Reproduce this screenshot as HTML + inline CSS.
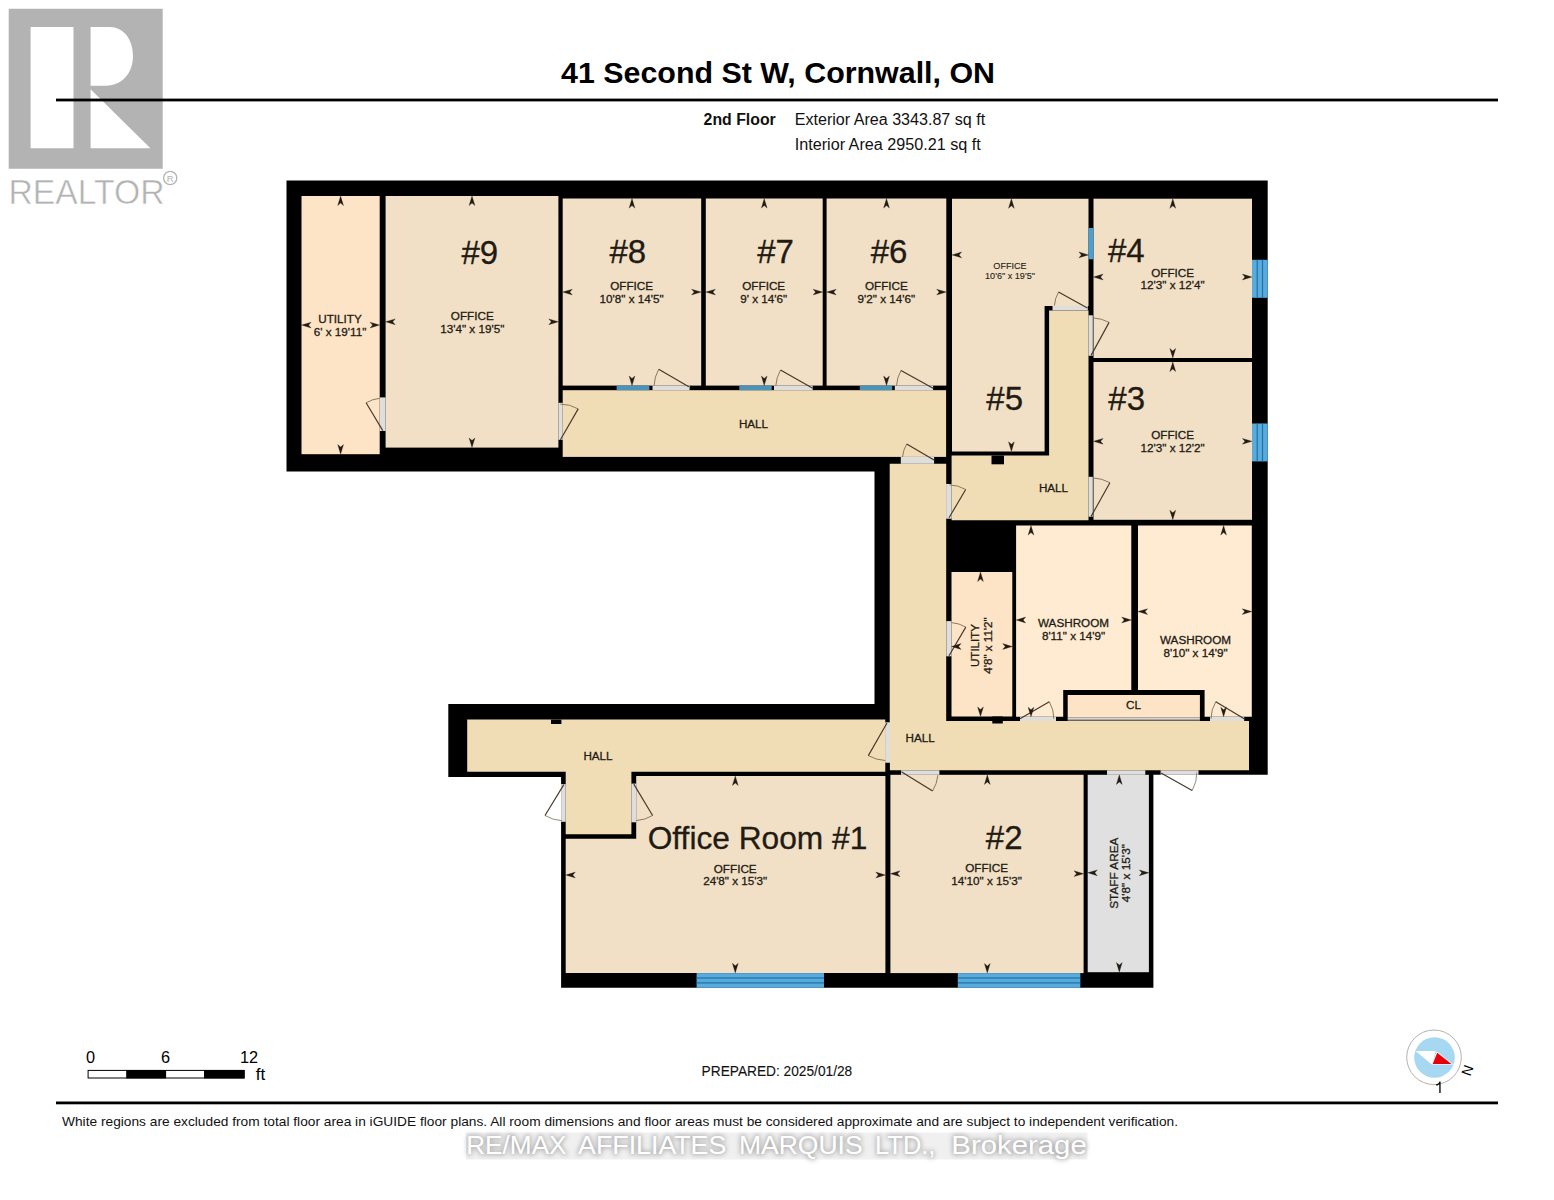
<!DOCTYPE html>
<html><head><meta charset="utf-8">
<style>
html,body{margin:0;padding:0;background:#fff;width:1554px;height:1200px;overflow:hidden}
svg{display:block;font-family:"Liberation Sans",sans-serif}
</style></head><body>
<svg width="1554" height="1200" viewBox="0 0 1554 1200">
<path d="M8.7 8.7H162.7V168.8H8.7Z M30.6 27.1V148.3H73.5V27.1Z M90.6 27.1V85.7H106C123 85.7 133 72 133 56C133 39 123 27.1 110 27.1Z M90.6 89.2V148.3H150.4Z" fill="#b3b3b3" fill-rule="evenodd"/>
<text x="8.5" y="203.8" font-size="35" fill="#b3b3b3" stroke="#fff" stroke-width="0.5" textLength="156" lengthAdjust="spacingAndGlyphs">REALTOR</text>
<circle cx="170.2" cy="178" r="6.6" fill="none" stroke="#b3b3b3" stroke-width="1.3"/>
<text x="170.2" y="181.5" font-size="9.5" text-anchor="middle" fill="#b3b3b3">R</text>
<rect x="56" y="98.6" width="1442" height="2.8" fill="#000"/>
<text x="561" y="83.2" font-size="30" font-weight="bold" fill="#000" textLength="434" lengthAdjust="spacingAndGlyphs">41 Second St W, Cornwall, ON</text>
<text x="703.6" y="125.3" font-size="16" font-weight="bold" fill="#111" textLength="72.2" lengthAdjust="spacingAndGlyphs">2nd Floor</text>
<text x="794.7" y="125.3" font-size="16" fill="#111" textLength="190.5" lengthAdjust="spacingAndGlyphs">Exterior Area 3343.87 sq ft</text>
<text x="794.7" y="149.9" font-size="16" fill="#111" textLength="186.1" lengthAdjust="spacingAndGlyphs">Interior Area 2950.21 sq ft</text>
<path d="M286.5 180.5H1267.7V774.8H1153.4V987.8H561.1V776.9H448.3V704H874.5V471.5H286.5Z" fill="#000"/>
<rect x="301.5" y="196.0" width="78.2" height="258.2" fill="#fee4c6"/>
<rect x="385.6" y="196.0" width="172.8" height="251.6" fill="#f1e0c6"/>
<rect x="562.7" y="198.5" width="138.5" height="187.1" fill="#f1e0c6"/>
<rect x="705.8" y="198.5" width="116.9" height="187.1" fill="#f1e0c6"/>
<rect x="826.6" y="198.5" width="119.7" height="187.1" fill="#f1e0c6"/>
<rect x="562.7" y="390.2" width="383.4" height="66.7" fill="#f0ddb6"/>
<path d="M952 198.7H1088.5V305.9H1044.6V451.4H952Z" fill="#f1e0c6"/>
<path d="M1049.1 310.4H1088.5V520.3H951.6V455.6H1049.1Z" fill="#f0ddb6"/>
<rect x="1093.5" y="198.7" width="158.5" height="159.3" fill="#f1e0c6"/>
<rect x="1093.5" y="362.0" width="158.5" height="157.8" fill="#f1e0c6"/>
<path d="M889.7 463.8H946.2V721H1249V770.3H889.9V762.5H885.3V722.6H889.7Z" fill="#f0ddb6"/>
<rect x="951.5" y="572.0" width="60.8" height="144.5" fill="#fee4c6"/>
<path d="M1016.1 525.5H1131.3V690H1063.2V716.8H1016.1Z" fill="#feebd2"/>
<path d="M1138 525.5H1251.8V716.8H1204.6V690H1138Z" fill="#feebd2"/>
<rect x="1067.7" y="695.0" width="132.2" height="22.6" fill="#fee4c6"/>
<path d="M467.2 719.6H885.3V771.8H631.4V834.3H565.7V771.8H467.2Z" fill="#f0ddb6"/>
<path d="M636.2 775.9H885.4V972.9H565.7V838.7H636.2Z" fill="#f1e0c6"/>
<rect x="890.4" y="774.8" width="193.2" height="198.3" fill="#f1e0c6"/>
<rect x="1087.7" y="774.8" width="61.2" height="197.4" fill="#e0e0e0"/>
<rect x="551.0" y="719.6" width="10.4" height="4.4" fill="#000"/>
<rect x="991.5" y="455.5" width="12.5" height="8.8" fill="#000"/>
<rect x="992.3" y="716.5" width="10.5" height="7.0" fill="#000"/>
<rect x="616.6" y="385.6" width="32.8" height="4.6" fill="#4b93b8"/>
<rect x="739.3" y="385.6" width="32.4" height="4.6" fill="#4b93b8"/>
<rect x="859.8" y="385.6" width="32.4" height="4.6" fill="#4b93b8"/>
<rect x="1088.5" y="228.0" width="5.0" height="31.3" fill="#4d9fd0"/>
<rect x="1252.0" y="259.8" width="15.7" height="38.0" fill="#58acdd"/>
<rect x="1256.6" y="259.8" width="1.2" height="38.0" fill="#236fa6"/>
<rect x="1261.9" y="259.8" width="1.2" height="38.0" fill="#236fa6"/>
<rect x="1252.0" y="423.5" width="15.7" height="37.9" fill="#58acdd"/>
<rect x="1256.6" y="423.5" width="1.2" height="37.9" fill="#236fa6"/>
<rect x="1261.9" y="423.5" width="1.2" height="37.9" fill="#236fa6"/>
<rect x="696.6" y="973.1" width="127.4" height="14.7" fill="#58acdd"/>
<rect x="696.6" y="977.4" width="127.4" height="1.2" fill="#236fa6"/>
<rect x="696.6" y="982.3" width="127.4" height="1.2" fill="#236fa6"/>
<rect x="957.8" y="973.1" width="122.5" height="14.7" fill="#58acdd"/>
<rect x="957.8" y="977.4" width="122.5" height="1.2" fill="#236fa6"/>
<rect x="957.8" y="982.3" width="122.5" height="1.2" fill="#236fa6"/>
<rect x="379.7" y="397.4" width="5.9" height="33.6" fill="#e0dedb"/>
<path d="M366.1 402.8 A32.4 32.4 0 0 1 379.8 398.3" fill="none" stroke="#857456" stroke-width="0.95"/>
<path d="M382.8 430.6 L366.1 402.8" stroke="#45362a" stroke-width="1.15" fill="none"/>
<rect x="558.4" y="402.8" width="4.3" height="37.0" fill="#e0dedb"/>
<path d="M578.2 408.9 A35.7 35.7 0 0 0 560.4 404.1" fill="none" stroke="#857456" stroke-width="0.95"/>
<path d="M560.4 439.8 L578.2 408.9" stroke="#45362a" stroke-width="1.15" fill="none"/>
<rect x="652.5" y="385.6" width="37.1" height="4.6" fill="#e0dedb"/>
<path d="M658.7 369.3 A34.8 34.8 0 0 0 654.1 385.6" fill="none" stroke="#857456" stroke-width="0.95"/>
<path d="M688.8 386.7 L658.7 369.3" stroke="#45362a" stroke-width="1.15" fill="none"/>
<rect x="774.0" y="385.6" width="38.7" height="4.6" fill="#e0dedb"/>
<path d="M780.5 370.1 A36.9 36.9 0 0 0 775.8 385.7" fill="none" stroke="#857456" stroke-width="0.95"/>
<path d="M812.7 388.2 L780.5 370.1" stroke="#45362a" stroke-width="1.15" fill="none"/>
<rect x="894.8" y="385.6" width="38.3" height="4.6" fill="#e0dedb"/>
<path d="M901.0 370.4 A36.7 36.7 0 0 0 896.5 385.7" fill="none" stroke="#857456" stroke-width="0.95"/>
<path d="M933.1 388.2 L901.0 370.4" stroke="#45362a" stroke-width="1.15" fill="none"/>
<rect x="900.8" y="456.9" width="33.3" height="6.9" fill="#e0dedb"/>
<path d="M906.7 444.0 A31.6 31.6 0 0 0 902.5 457.1" fill="none" stroke="#857456" stroke-width="0.95"/>
<path d="M934.0 460.0 L906.7 444.0" stroke="#45362a" stroke-width="1.15" fill="none"/>
<rect x="946.1" y="484.0" width="5.5" height="34.7" fill="#e0dedb"/>
<path d="M965.7 489.5 A32.9 32.9 0 0 0 949.5 484.9" fill="none" stroke="#857456" stroke-width="0.95"/>
<path d="M949.0 517.8 L965.7 489.5" stroke="#45362a" stroke-width="1.15" fill="none"/>
<rect x="1052.5" y="305.9" width="35.3" height="4.5" fill="#e0dedb"/>
<path d="M1058.5 292.0 A33.1 33.1 0 0 0 1054.4 305.6" fill="none" stroke="#857456" stroke-width="0.95"/>
<path d="M1087.4 308.1 L1058.5 292.0" stroke="#45362a" stroke-width="1.15" fill="none"/>
<rect x="1088.5" y="315.3" width="4.3" height="40.5" fill="#e0dedb"/>
<path d="M1109.1 322.4 A37.6 37.6 0 0 0 1092.9 317.9" fill="none" stroke="#857456" stroke-width="0.95"/>
<path d="M1091.1 355.4 L1109.1 322.4" stroke="#45362a" stroke-width="1.15" fill="none"/>
<rect x="1088.5" y="476.8" width="4.3" height="39.9" fill="#e0dedb"/>
<path d="M1109.9 482.7 A38.6 38.6 0 0 0 1093.0 477.9" fill="none" stroke="#857456" stroke-width="0.95"/>
<path d="M1091.1 516.4 L1109.9 482.7" stroke="#45362a" stroke-width="1.15" fill="none"/>
<rect x="946.3" y="621.1" width="5.2" height="35.2" fill="#e0dedb"/>
<path d="M965.8 627.1 A33.3 33.3 0 0 0 951.4 622.6" fill="none" stroke="#857456" stroke-width="0.95"/>
<path d="M949.0 655.8 L965.8 627.1" stroke="#45362a" stroke-width="1.15" fill="none"/>
<rect x="1020.0" y="716.8" width="36.0" height="4.2" fill="#e0dedb"/>
<path d="M1049.3 701.7 A33.9 33.9 0 0 1 1053.9 718.8" fill="none" stroke="#857456" stroke-width="0.95"/>
<path d="M1020.0 718.8 L1049.3 701.7" stroke="#45362a" stroke-width="1.15" fill="none"/>
<rect x="1210.0" y="716.8" width="34.2" height="4.2" fill="#e0dedb"/>
<path d="M1215.8 701.7 A33.2 33.2 0 0 0 1211.0 718.8" fill="none" stroke="#857456" stroke-width="0.95"/>
<path d="M1244.2 718.8 L1215.8 701.7" stroke="#45362a" stroke-width="1.15" fill="none"/>
<rect x="885.3" y="722.6" width="4.6" height="39.9" fill="#e0dedb"/>
<path d="M868.3 755.6 A37.6 37.6 0 0 0 885.4 760.5" fill="none" stroke="#857456" stroke-width="0.95"/>
<path d="M887.0 723.0 L868.3 755.6" stroke="#45362a" stroke-width="1.15" fill="none"/>
<rect x="901.0" y="770.3" width="38.4" height="4.5" fill="#e0dedb"/>
<path d="M932.6 791.0 A36.7 36.7 0 0 0 937.9 775.2" fill="none" stroke="#857456" stroke-width="0.95"/>
<path d="M901.4 771.7 L932.6 791.0" stroke="#45362a" stroke-width="1.15" fill="none"/>
<rect x="1160.6" y="770.3" width="37.9" height="4.5" fill="#e0dedb"/>
<path d="M1192.2 790.5 A35.8 35.8 0 0 0 1196.8 772.5" fill="none" stroke="#8c8478" stroke-width="0.95"/>
<path d="M1161.0 773.0 L1192.2 790.5" stroke="#45362a" stroke-width="1.15" fill="none"/>
<rect x="561.1" y="784.1" width="4.6" height="37.7" fill="#e0dedb"/>
<path d="M545.0 815.5 A36.2 36.2 0 0 0 562.0 820.7" fill="none" stroke="#8c8478" stroke-width="0.95"/>
<path d="M563.8 784.6 L545.0 815.5" stroke="#45362a" stroke-width="1.15" fill="none"/>
<rect x="631.4" y="783.6" width="4.8" height="38.7" fill="#e0dedb"/>
<path d="M652.6 815.5 A36.6 36.6 0 0 1 636.1 820.6" fill="none" stroke="#857456" stroke-width="0.95"/>
<path d="M633.8 784.1 L652.6 815.5" stroke="#45362a" stroke-width="1.15" fill="none"/>
<rect x="1107.0" y="770.3" width="38.3" height="4.5" fill="#e0dedb"/>
<rect x="1067.7" y="717.6" width="132.2" height="2.9" fill="#d8d4d0"/>
<rect x="1067.7" y="719.6" width="132.2" height="0.9" fill="#6a6058"/>
<path d="M340.6 196.0 L343.5 205.6 L340.6 203.1 L337.7 205.6 Z" fill="#221b14" stroke="#221b14" stroke-width="0.3" stroke-linejoin="round"/>
<path d="M340.6 454.2 L337.7 444.6 L340.6 447.1 L343.5 444.6 Z" fill="#221b14" stroke="#221b14" stroke-width="0.3" stroke-linejoin="round"/>
<path d="M301.5 325.1 L311.1 322.2 L308.6 325.1 L311.1 328.0 Z" fill="#221b14" stroke="#221b14" stroke-width="0.3" stroke-linejoin="round"/>
<path d="M379.7 325.1 L370.1 328.0 L372.6 325.1 L370.1 322.2 Z" fill="#221b14" stroke="#221b14" stroke-width="0.3" stroke-linejoin="round"/>
<path d="M472.0 196.0 L474.9 205.6 L472.0 203.1 L469.1 205.6 Z" fill="#221b14" stroke="#221b14" stroke-width="0.3" stroke-linejoin="round"/>
<path d="M472.0 447.6 L469.1 438.0 L472.0 440.5 L474.9 438.0 Z" fill="#221b14" stroke="#221b14" stroke-width="0.3" stroke-linejoin="round"/>
<path d="M385.6 321.8 L395.2 318.9 L392.7 321.8 L395.2 324.7 Z" fill="#221b14" stroke="#221b14" stroke-width="0.3" stroke-linejoin="round"/>
<path d="M558.4 321.8 L548.8 324.7 L551.3 321.8 L548.8 318.9 Z" fill="#221b14" stroke="#221b14" stroke-width="0.3" stroke-linejoin="round"/>
<path d="M632.0 198.5 L634.9 208.1 L632.0 205.6 L629.1 208.1 Z" fill="#221b14" stroke="#221b14" stroke-width="0.3" stroke-linejoin="round"/>
<path d="M632.0 385.6 L629.1 376.0 L632.0 378.5 L634.9 376.0 Z" fill="#221b14" stroke="#221b14" stroke-width="0.3" stroke-linejoin="round"/>
<path d="M562.7 292.1 L572.3 289.2 L569.8 292.1 L572.3 294.9 Z" fill="#221b14" stroke="#221b14" stroke-width="0.3" stroke-linejoin="round"/>
<path d="M701.2 292.1 L691.6 294.9 L694.1 292.1 L691.6 289.2 Z" fill="#221b14" stroke="#221b14" stroke-width="0.3" stroke-linejoin="round"/>
<path d="M764.2 198.5 L767.1 208.1 L764.2 205.6 L761.4 208.1 Z" fill="#221b14" stroke="#221b14" stroke-width="0.3" stroke-linejoin="round"/>
<path d="M764.2 385.6 L761.4 376.0 L764.2 378.5 L767.1 376.0 Z" fill="#221b14" stroke="#221b14" stroke-width="0.3" stroke-linejoin="round"/>
<path d="M705.8 292.1 L715.4 289.2 L712.9 292.1 L715.4 294.9 Z" fill="#221b14" stroke="#221b14" stroke-width="0.3" stroke-linejoin="round"/>
<path d="M822.7 292.1 L813.1 294.9 L815.6 292.1 L813.1 289.2 Z" fill="#221b14" stroke="#221b14" stroke-width="0.3" stroke-linejoin="round"/>
<path d="M886.5 198.5 L889.4 208.1 L886.5 205.6 L883.6 208.1 Z" fill="#221b14" stroke="#221b14" stroke-width="0.3" stroke-linejoin="round"/>
<path d="M886.5 385.6 L883.6 376.0 L886.5 378.5 L889.4 376.0 Z" fill="#221b14" stroke="#221b14" stroke-width="0.3" stroke-linejoin="round"/>
<path d="M826.6 292.1 L836.2 289.2 L833.7 292.1 L836.2 294.9 Z" fill="#221b14" stroke="#221b14" stroke-width="0.3" stroke-linejoin="round"/>
<path d="M946.3 292.1 L936.7 294.9 L939.2 292.1 L936.7 289.2 Z" fill="#221b14" stroke="#221b14" stroke-width="0.3" stroke-linejoin="round"/>
<path d="M1011.4 198.7 L1014.3 208.3 L1011.4 205.8 L1008.5 208.3 Z" fill="#221b14" stroke="#221b14" stroke-width="0.3" stroke-linejoin="round"/>
<path d="M1011.4 451.4 L1008.5 441.8 L1011.4 444.3 L1014.3 441.8 Z" fill="#221b14" stroke="#221b14" stroke-width="0.3" stroke-linejoin="round"/>
<path d="M952.0 254.9 L961.6 252.0 L959.1 254.9 L961.6 257.8 Z" fill="#221b14" stroke="#221b14" stroke-width="0.3" stroke-linejoin="round"/>
<path d="M1088.5 254.9 L1078.9 257.8 L1081.4 254.9 L1078.9 252.0 Z" fill="#221b14" stroke="#221b14" stroke-width="0.3" stroke-linejoin="round"/>
<path d="M1172.8 198.7 L1175.7 208.3 L1172.8 205.8 L1169.8 208.3 Z" fill="#221b14" stroke="#221b14" stroke-width="0.3" stroke-linejoin="round"/>
<path d="M1172.8 358.0 L1169.8 348.4 L1172.8 350.9 L1175.7 348.4 Z" fill="#221b14" stroke="#221b14" stroke-width="0.3" stroke-linejoin="round"/>
<path d="M1093.5 277.0 L1103.1 274.1 L1100.6 277.0 L1103.1 279.9 Z" fill="#221b14" stroke="#221b14" stroke-width="0.3" stroke-linejoin="round"/>
<path d="M1252.0 277.0 L1242.4 279.9 L1244.9 277.0 L1242.4 274.1 Z" fill="#221b14" stroke="#221b14" stroke-width="0.3" stroke-linejoin="round"/>
<path d="M1172.8 362.0 L1175.7 371.6 L1172.8 369.1 L1169.8 371.6 Z" fill="#221b14" stroke="#221b14" stroke-width="0.3" stroke-linejoin="round"/>
<path d="M1172.8 519.8 L1169.8 510.2 L1172.8 512.7 L1175.7 510.2 Z" fill="#221b14" stroke="#221b14" stroke-width="0.3" stroke-linejoin="round"/>
<path d="M1093.5 441.3 L1103.1 438.4 L1100.6 441.3 L1103.1 444.2 Z" fill="#221b14" stroke="#221b14" stroke-width="0.3" stroke-linejoin="round"/>
<path d="M1252.0 441.3 L1242.4 444.2 L1244.9 441.3 L1242.4 438.4 Z" fill="#221b14" stroke="#221b14" stroke-width="0.3" stroke-linejoin="round"/>
<path d="M980.5 572.0 L983.4 581.6 L980.5 579.1 L977.6 581.6 Z" fill="#221b14" stroke="#221b14" stroke-width="0.3" stroke-linejoin="round"/>
<path d="M980.5 716.5 L977.6 706.9 L980.5 709.4 L983.4 706.9 Z" fill="#221b14" stroke="#221b14" stroke-width="0.3" stroke-linejoin="round"/>
<path d="M951.5 646.5 L961.1 643.6 L958.6 646.5 L961.1 649.4 Z" fill="#221b14" stroke="#221b14" stroke-width="0.3" stroke-linejoin="round"/>
<path d="M1012.3 646.5 L1002.7 649.4 L1005.2 646.5 L1002.7 643.6 Z" fill="#221b14" stroke="#221b14" stroke-width="0.3" stroke-linejoin="round"/>
<path d="M1031.0 525.5 L1033.9 535.1 L1031.0 532.6 L1028.1 535.1 Z" fill="#221b14" stroke="#221b14" stroke-width="0.3" stroke-linejoin="round"/>
<path d="M1031.0 716.8 L1028.1 707.2 L1031.0 709.7 L1033.9 707.2 Z" fill="#221b14" stroke="#221b14" stroke-width="0.3" stroke-linejoin="round"/>
<path d="M1016.1 620.0 L1025.7 617.1 L1023.2 620.0 L1025.7 622.9 Z" fill="#221b14" stroke="#221b14" stroke-width="0.3" stroke-linejoin="round"/>
<path d="M1131.3 620.0 L1121.7 622.9 L1124.2 620.0 L1121.7 617.1 Z" fill="#221b14" stroke="#221b14" stroke-width="0.3" stroke-linejoin="round"/>
<path d="M1223.6 525.5 L1226.5 535.1 L1223.6 532.6 L1220.7 535.1 Z" fill="#221b14" stroke="#221b14" stroke-width="0.3" stroke-linejoin="round"/>
<path d="M1223.6 716.8 L1220.7 707.2 L1223.6 709.7 L1226.5 707.2 Z" fill="#221b14" stroke="#221b14" stroke-width="0.3" stroke-linejoin="round"/>
<path d="M1138.0 611.6 L1147.6 608.7 L1145.1 611.6 L1147.6 614.5 Z" fill="#221b14" stroke="#221b14" stroke-width="0.3" stroke-linejoin="round"/>
<path d="M1251.8 611.6 L1242.2 614.5 L1244.7 611.6 L1242.2 608.7 Z" fill="#221b14" stroke="#221b14" stroke-width="0.3" stroke-linejoin="round"/>
<path d="M735.3 775.9 L738.2 785.5 L735.3 783.0 L732.4 785.5 Z" fill="#221b14" stroke="#221b14" stroke-width="0.3" stroke-linejoin="round"/>
<path d="M735.3 972.9 L732.4 963.3 L735.3 965.8 L738.2 963.3 Z" fill="#221b14" stroke="#221b14" stroke-width="0.3" stroke-linejoin="round"/>
<path d="M565.7 875.0 L575.3 872.1 L572.8 875.0 L575.3 877.9 Z" fill="#221b14" stroke="#221b14" stroke-width="0.3" stroke-linejoin="round"/>
<path d="M885.4 875.0 L875.8 877.9 L878.3 875.0 L875.8 872.1 Z" fill="#221b14" stroke="#221b14" stroke-width="0.3" stroke-linejoin="round"/>
<path d="M987.3 774.8 L990.2 784.4 L987.3 781.9 L984.4 784.4 Z" fill="#221b14" stroke="#221b14" stroke-width="0.3" stroke-linejoin="round"/>
<path d="M987.3 973.1 L984.4 963.5 L987.3 966.0 L990.2 963.5 Z" fill="#221b14" stroke="#221b14" stroke-width="0.3" stroke-linejoin="round"/>
<path d="M890.4 873.7 L900.0 870.8 L897.5 873.7 L900.0 876.6 Z" fill="#221b14" stroke="#221b14" stroke-width="0.3" stroke-linejoin="round"/>
<path d="M1083.6 873.7 L1074.0 876.6 L1076.5 873.7 L1074.0 870.8 Z" fill="#221b14" stroke="#221b14" stroke-width="0.3" stroke-linejoin="round"/>
<path d="M1119.3 774.8 L1122.2 784.4 L1119.3 781.9 L1116.4 784.4 Z" fill="#221b14" stroke="#221b14" stroke-width="0.3" stroke-linejoin="round"/>
<path d="M1119.3 972.2 L1116.4 962.6 L1119.3 965.1 L1122.2 962.6 Z" fill="#221b14" stroke="#221b14" stroke-width="0.3" stroke-linejoin="round"/>
<path d="M1087.7 872.8 L1097.3 869.9 L1094.8 872.8 L1097.3 875.7 Z" fill="#221b14" stroke="#221b14" stroke-width="0.3" stroke-linejoin="round"/>
<path d="M1148.9 872.8 L1139.3 875.7 L1141.8 872.8 L1139.3 869.9 Z" fill="#221b14" stroke="#221b14" stroke-width="0.3" stroke-linejoin="round"/>
<text x="479.8" y="263.5" font-size="33.0" text-anchor="middle" fill="#221b14" stroke="#221b14" stroke-width="0.3">#9</text>
<text x="627.8" y="263.1" font-size="33.0" text-anchor="middle" fill="#221b14" stroke="#221b14" stroke-width="0.3">#8</text>
<text x="775.5" y="263.1" font-size="33.0" text-anchor="middle" fill="#221b14" stroke="#221b14" stroke-width="0.3">#7</text>
<text x="889.0" y="263.1" font-size="33.0" text-anchor="middle" fill="#221b14" stroke="#221b14" stroke-width="0.3">#6</text>
<text x="1004.7" y="410.2" font-size="33.0" text-anchor="middle" fill="#221b14" stroke="#221b14" stroke-width="0.3">#5</text>
<text x="1126.3" y="262.3" font-size="33.0" text-anchor="middle" fill="#221b14" stroke="#221b14" stroke-width="0.3">#4</text>
<text x="1126.7" y="410.2" font-size="33.0" text-anchor="middle" fill="#221b14" stroke="#221b14" stroke-width="0.3">#3</text>
<text x="1004.2" y="848.5" font-size="33.0" text-anchor="middle" fill="#221b14" stroke="#221b14" stroke-width="0.3">#2</text>
<text x="757.5" y="849.0" font-size="31.7" text-anchor="middle" fill="#221b14" stroke="#221b14" stroke-width="0.3">Office Room #1</text>
<text x="340.0" y="322.9" font-size="11.7" text-anchor="middle" fill="#221b14" stroke="#221b14" stroke-width="0.3">UTILITY</text>
<text x="340.0" y="335.5" font-size="11.7" text-anchor="middle" fill="#221b14" stroke="#221b14" stroke-width="0.3">6' x 19'11"</text>
<text x="472.3" y="320.3" font-size="11.7" text-anchor="middle" fill="#221b14" stroke="#221b14" stroke-width="0.3">OFFICE</text>
<text x="472.3" y="332.9" font-size="11.7" text-anchor="middle" fill="#221b14" stroke="#221b14" stroke-width="0.3">13'4" x 19'5"</text>
<text x="631.6" y="290.4" font-size="11.7" text-anchor="middle" fill="#221b14" stroke="#221b14" stroke-width="0.3">OFFICE</text>
<text x="631.6" y="303.0" font-size="11.7" text-anchor="middle" fill="#221b14" stroke="#221b14" stroke-width="0.3">10'8" x 14'5"</text>
<text x="763.7" y="290.3" font-size="11.7" text-anchor="middle" fill="#221b14" stroke="#221b14" stroke-width="0.3">OFFICE</text>
<text x="763.7" y="302.9" font-size="11.7" text-anchor="middle" fill="#221b14" stroke="#221b14" stroke-width="0.3">9' x 14'6"</text>
<text x="886.4" y="290.3" font-size="11.7" text-anchor="middle" fill="#221b14" stroke="#221b14" stroke-width="0.3">OFFICE</text>
<text x="886.4" y="302.9" font-size="11.7" text-anchor="middle" fill="#221b14" stroke="#221b14" stroke-width="0.3">9'2" x 14'6"</text>
<text x="1010.0" y="269.0" font-size="9.1" text-anchor="middle" fill="#221b14" stroke="#221b14" stroke-width="0.1">OFFICE</text>
<text x="1010.0" y="278.6" font-size="9.1" text-anchor="middle" fill="#221b14" stroke="#221b14" stroke-width="0.1">10'6" x 19'5"</text>
<text x="1172.6" y="276.5" font-size="11.7" text-anchor="middle" fill="#221b14" stroke="#221b14" stroke-width="0.3">OFFICE</text>
<text x="1172.6" y="289.1" font-size="11.7" text-anchor="middle" fill="#221b14" stroke="#221b14" stroke-width="0.3">12'3" x 12'4"</text>
<text x="1172.6" y="439.2" font-size="11.7" text-anchor="middle" fill="#221b14" stroke="#221b14" stroke-width="0.3">OFFICE</text>
<text x="1172.6" y="451.8" font-size="11.7" text-anchor="middle" fill="#221b14" stroke="#221b14" stroke-width="0.3">12'3" x 12'2"</text>
<text x="1073.5" y="627.0" font-size="11.7" text-anchor="middle" fill="#221b14" stroke="#221b14" stroke-width="0.3">WASHROOM</text>
<text x="1073.5" y="639.6" font-size="11.7" text-anchor="middle" fill="#221b14" stroke="#221b14" stroke-width="0.3">8'11" x 14'9"</text>
<text x="1195.5" y="644.0" font-size="11.7" text-anchor="middle" fill="#221b14" stroke="#221b14" stroke-width="0.3">WASHROOM</text>
<text x="1195.5" y="656.6" font-size="11.7" text-anchor="middle" fill="#221b14" stroke="#221b14" stroke-width="0.3">8'10" x 14'9"</text>
<text x="735.2" y="872.7" font-size="11.7" text-anchor="middle" fill="#221b14" stroke="#221b14" stroke-width="0.3">OFFICE</text>
<text x="735.2" y="885.3" font-size="11.7" text-anchor="middle" fill="#221b14" stroke="#221b14" stroke-width="0.3">24'8" x 15'3"</text>
<text x="986.6" y="872.2" font-size="11.7" text-anchor="middle" fill="#221b14" stroke="#221b14" stroke-width="0.3">OFFICE</text>
<text x="986.6" y="884.8" font-size="11.7" text-anchor="middle" fill="#221b14" stroke="#221b14" stroke-width="0.3">14'10" x 15'3"</text>
<g transform="translate(979.0 645.5) rotate(-90)">
<text x="0.0" y="0.0" font-size="11.6" text-anchor="middle" fill="#221b14" stroke="#221b14" stroke-width="0.3">UTILITY</text>
<text x="0.0" y="13.1" font-size="11.6" text-anchor="middle" fill="#221b14" stroke="#221b14" stroke-width="0.3">4'8" x 11'2"</text>
</g>
<g transform="translate(1117.5 873.2) rotate(-90)">
<text x="0.0" y="0.0" font-size="11.8" text-anchor="middle" fill="#221b14" stroke="#221b14" stroke-width="0.3">STAFF AREA</text>
<text x="0.0" y="12.8" font-size="11.8" text-anchor="middle" fill="#221b14" stroke="#221b14" stroke-width="0.3">4'8" x 15'3"</text>
</g>
<text x="753.5" y="428.0" font-size="11.7" text-anchor="middle" fill="#221b14" stroke="#221b14" stroke-width="0.3">HALL</text>
<text x="1053.5" y="491.6" font-size="11.7" text-anchor="middle" fill="#221b14" stroke="#221b14" stroke-width="0.3">HALL</text>
<text x="920.2" y="742.4" font-size="11.7" text-anchor="middle" fill="#221b14" stroke="#221b14" stroke-width="0.3">HALL</text>
<text x="598.0" y="760.2" font-size="11.7" text-anchor="middle" fill="#221b14" stroke="#221b14" stroke-width="0.3">HALL</text>
<text x="1133.5" y="709.4" font-size="11.7" text-anchor="middle" fill="#221b14" stroke="#221b14" stroke-width="0.3">CL</text>
<rect x="88.1" y="1070.4" width="156" height="7.6" fill="#fff" stroke="#000" stroke-width="1"/>
<rect x="126.2" y="1070.0" width="39.9" height="8.4" fill="#000"/>
<rect x="204.0" y="1070.0" width="40.6" height="8.4" fill="#000"/>
<text x="90.5" y="1063.4" font-size="16.3" text-anchor="middle" fill="#000" stroke="#000" stroke-width="0">0</text>
<text x="165.5" y="1063.4" font-size="16.3" text-anchor="middle" fill="#000" stroke="#000" stroke-width="0">6</text>
<text x="249.0" y="1063.4" font-size="16.3" text-anchor="middle" fill="#000" stroke="#000" stroke-width="0">12</text>
<text x="260.5" y="1080.0" font-size="17.0" text-anchor="middle" fill="#000" stroke="#000" stroke-width="0">ft</text>
<text x="701.6" y="1075.6" font-size="14" fill="#111" stroke="#111" stroke-width="0.1" textLength="150.6" lengthAdjust="spacingAndGlyphs">PREPARED: 2025/01/28</text>
<rect x="56.0" y="1101.5" width="1442.0" height="2.8" fill="#000"/>
<text x="62" y="1126.3" font-size="13.6" fill="#111" textLength="1116" lengthAdjust="spacingAndGlyphs">White regions are excluded from total floor area in iGUIDE floor plans. All room dimensions and floor areas must be considered approximate and are subject to independent verification.</text>
<defs><filter id="bl" x="-20%" y="-60%" width="140%" height="220%"><feGaussianBlur stdDeviation="2.4"/></filter></defs>
<rect x="466" y="1132.5" width="621.5" height="27" fill="#000" opacity="0.06"/>
<g filter="url(#bl)" opacity="0.55">
<text x="466.2" y="1154.3" font-size="26" fill="#777" stroke="#777" stroke-width="2" textLength="100.4" lengthAdjust="spacingAndGlyphs">RE/MAX</text>
<text x="578.1" y="1154.3" font-size="26" fill="#777" stroke="#777" stroke-width="2" textLength="148.2" lengthAdjust="spacingAndGlyphs">AFFILIATES</text>
<text x="738.9" y="1154.3" font-size="26" fill="#777" stroke="#777" stroke-width="2" textLength="123.7" lengthAdjust="spacingAndGlyphs">MARQUIS</text>
<text x="875.1" y="1154.3" font-size="26" fill="#777" stroke="#777" stroke-width="2" textLength="60.3" lengthAdjust="spacingAndGlyphs">LTD.,</text>
<text x="951.3" y="1154.3" font-size="26" fill="#777" stroke="#777" stroke-width="2" textLength="135.5" lengthAdjust="spacingAndGlyphs">Brokerage</text>
</g>
<text x="466.2" y="1154.3" font-size="26" fill="#fff" textLength="100.4" lengthAdjust="spacingAndGlyphs">RE/MAX</text>
<text x="578.1" y="1154.3" font-size="26" fill="#fff" textLength="148.2" lengthAdjust="spacingAndGlyphs">AFFILIATES</text>
<text x="738.9" y="1154.3" font-size="26" fill="#fff" textLength="123.7" lengthAdjust="spacingAndGlyphs">MARQUIS</text>
<text x="875.1" y="1154.3" font-size="26" fill="#fff" textLength="60.3" lengthAdjust="spacingAndGlyphs">LTD.,</text>
<text x="951.3" y="1154.3" font-size="26" fill="#fff" textLength="135.5" lengthAdjust="spacingAndGlyphs">Brokerage</text>
<circle cx="1434" cy="1057.3" r="27.3" fill="#fff" stroke="#b8b0ac" stroke-width="1"/>
<circle cx="1434.5" cy="1057.5" r="20.3" fill="#a6d8f2"/>
<path d="M1415.6 1050.9L1435.8 1050.9L1431.8 1064.5Z" fill="#fff"/>
<path d="M1436.8 1051.4L1453.4 1064.5L1431.8 1064.5Z" fill="#fff"/>
<path d="M1437.2 1052.7L1451.5 1063.9L1432.7 1063.9Z" fill="#e8000a"/>
<text x="0" y="0" font-size="14" fill="#000" transform="translate(1467.4 1070.4) rotate(-70)" text-anchor="middle" dominant-baseline="central">N</text>
<path d="M1440.6 1093V1081.6H1439.4C1439 1083.3 1437.8 1084.2 1436 1084.4V1085.6C1437.4 1085.5 1438.6 1085 1439.3 1084.3V1093Z" fill="#000"/>
</svg>
</body></html>
